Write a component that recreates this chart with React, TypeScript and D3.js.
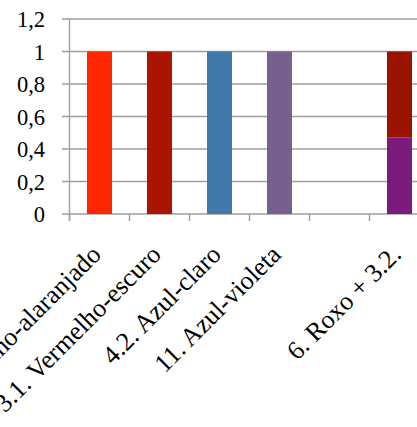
import React from "react";
import * as d3 from "d3";

const categories = [
  "2. Vermelho-alaranjado",
  "3.1. Vermelho-escuro",
  "4.2. Azul-claro",
  "11. Azul-violeta",
  "",
  "6. Roxo + 3.2.",
];
const lowerValues = [1, 1, 1, 1, 0, 0.47];
const upperValues = [0, 0, 0, 0, 0, 0.53];
const lowerColors = ["#ff2600", "#a91500", "#417aaa", "#77608d", "#7d1a7d", "#7d1a7d"];
const upperColors = ["#9a1200", "#9a1200", "#9a1200", "#9a1200", "#9a1200", "#9a1200"];
const yTicks = [0, 0.2, 0.4, 0.6, 0.8, 1, 1.2];

const W = 417;
const H = 427;
const left = 69.5;
const top = 19;
const bottom = 214;
const bandW = 60;

export default function App() {
  const xOuter = d3
    .scaleBand<number>()
    .domain(d3.range(categories.length))
    .range([left, left + bandW * categories.length]);
  const y = d3.scaleLinear().domain([0, 1.2]).range([bottom, top]);
  const fmt = (v: number) => (v === 0 || v === 1 ? String(v) : d3.format(".1f")(v).replace(".", ","));
  const font = "'Liberation Serif', 'Times New Roman', serif";
  const barW = 25;

  return (
    <div style={{ position: "absolute", left: 0, top: 0, width: W, height: H, overflow: "hidden" }}>
      <svg width={W} height={H} style={{ display: "block", background: "#fff" }}>
        {yTicks.map((t) => (
          <g key={t}>
            <line x1={left - 7.5} x2={W} y1={y(t)} y2={y(t)} stroke="#9e9e9e" strokeWidth={1.4} />
            <text
              x={45}
              y={y(t)}
              dy="0.36em"
              textAnchor="end"
              fontFamily={font}
              fontSize={22.5}
              fill="#000"
            >
              {fmt(t)}
            </text>
          </g>
        ))}
        <line x1={left} x2={left} y1={top} y2={bottom + 7} stroke="#9e9e9e" strokeWidth={1.4} />
        {d3.range(categories.length + 1).map((i) => (
          <line
            key={"xt" + i}
            x1={left + i * bandW}
            x2={left + i * bandW}
            y1={bottom}
            y2={bottom + 7}
            stroke="#9e9e9e"
            strokeWidth={1.4}
          />
        ))}
        {categories.map((c, i) => {
          const cx = (xOuter(i) as number) + xOuter.bandwidth() / 2;
          const x0 = cx - barW / 2;
          return (
            <g key={"b" + i}>
              {lowerValues[i] > 0 && (
                <rect
                  x={x0}
                  width={barW}
                  y={y(lowerValues[i])}
                  height={y(0) - y(lowerValues[i])}
                  fill={lowerColors[i]}
                />
              )}
              {upperValues[i] > 0 && (
                <rect
                  x={x0}
                  width={barW}
                  y={y(lowerValues[i] + upperValues[i])}
                  height={y(lowerValues[i]) - y(lowerValues[i] + upperValues[i])}
                  fill={upperColors[i]}
                />
              )}
            </g>
          );
        })}
        {categories.map((c, i) => {
          const cx = (xOuter(i) as number) + xOuter.bandwidth() / 2;
          return (
            <text
              key={"l" + i}
              transform={`translate(${cx + 3},${bottom + 42}) rotate(-45)`}
              textAnchor="end"
              fontFamily={font}
              fontSize={26}
              fill="#000"
            >
              {c}
            </text>
          );
        })}
      </svg>
    </div>
  );
}
